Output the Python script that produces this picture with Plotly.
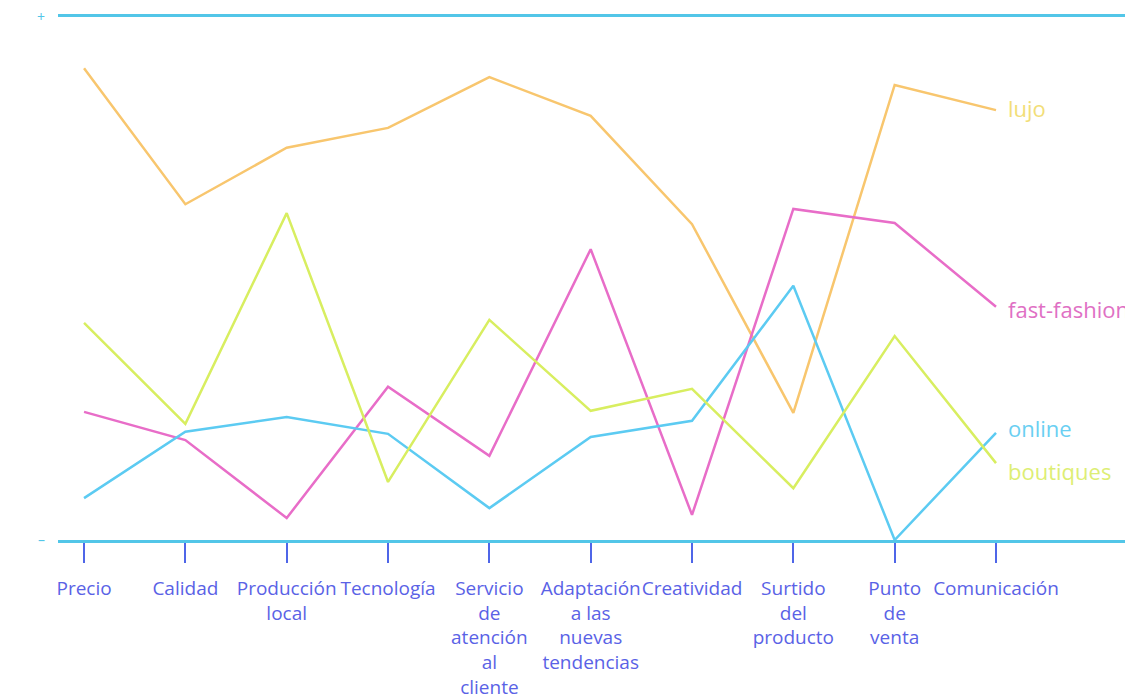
import plotly.graph_objects as go

categories = ["Precio", "Calidad", "Producción<br>local", "Tecnología",
              "Servicio<br>de<br>atención<br>al<br>cliente",
              "Adaptación<br>a las<br>nuevas<br>tendencias", "Creatividad",
              "Surtido<br>del<br>producto", "Punto<br>de<br>venta", "Comunicación"]

lujo = [90.2, 64.2, 75.0, 78.8, 88.5, 81.1, 60.4, 24.3, 87.0, 82.2]
fast_fashion = [24.5, 19.1, 4.2, 29.3, 16.1, 55.6, 4.8, 63.3, 60.6, 44.6]
online = [8.0, 20.7, 23.5, 20.3, 6.1, 19.7, 22.8, 48.6, 0.0, 20.5]
boutiques = [41.5, 22.2, 62.5, 11.1, 42.1, 24.7, 28.9, 9.9, 39.0, 14.7]

series = [
    ("lujo", lujo, "#F8C66E", "#F2DE78", 2),
    ("fast-fashion", fast_fashion, "#E86DC8", "#E070C4", -2),
    ("online", online, "#5CCBF2", "#6ACFF2", 5),
    ("boutiques", boutiques, "#D8EE60", "#DDEE74", -8),
]

x = list(range(len(categories)))
fig = go.Figure()
for name, vals, color, lcolor, ys in series:
    fig.add_trace(go.Scatter(x=x, y=vals, mode="lines", name=name,
                             line=dict(color=color, width=2.5), showlegend=False))
    fig.add_annotation(x=x[-1], y=vals[-1], text=name, showarrow=False,
                       xanchor="left", yanchor="middle", xshift=10, yshift=ys,
                       font=dict(family="Open Sans", size=22, color=lcolor))

fig.update_layout(
    width=1133, height=699,
    margin=dict(l=50, r=8, t=9, b=167),
    paper_bgcolor="white", plot_bgcolor="white",
    xaxis=dict(range=[-0.257, 10.352], tickvals=x, ticktext=categories,
               automargin=False,
               showgrid=False, zeroline=False, showline=True, mirror=True,
               linecolor="#52C6E8", linewidth=3,
               ticks="outside", ticklen=20, tickwidth=2, tickcolor="#4F66E8",
               tickangle=0, ticklabelstandoff=9,
               tickfont=dict(family="Open Sans", size=19, color="#5A62E6")),
    yaxis=dict(range=[0, 100], tickvals=[0, 100], ticktext=["–", "+"],
               automargin=False, ticklabeloverflow="allow",
               showgrid=False, zeroline=False, showline=False,
               ticklabelstandoff=12,
               tickfont=dict(family="Open Sans", size=14, color="#52C6E8")),
)

fig.write_html("out.html")
